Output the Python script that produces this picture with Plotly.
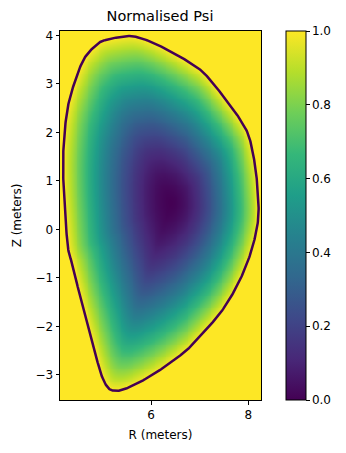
import numpy as np
import plotly.graph_objects as go

# Plasma boundary (last closed flux surface) control points, metres
boundary_r = [5.05, 5.47, 5.73, 6.08, 6.49, 6.84, 7.11, 7.49, 7.79, 8.00, 8.12, 8.18, 8.21,
              8.14, 8.00, 7.76, 7.42, 6.91, 6.70, 6.29, 5.88, 5.47, 5.26, 5.12, 4.99,
              4.85, 4.66, 4.54, 4.40, 4.30, 4.24, 4.20, 4.20, 4.27, 4.40, 4.61, 4.85]
boundary_z = [3.90, 3.98, 3.96, 3.83, 3.62, 3.41, 3.20, 2.74, 2.33, 1.95, 1.43, 0.95, 0.33,
              -0.15, -0.63, -1.18, -1.73, -2.31, -2.52, -2.83, -3.09, -3.29, -3.33, -3.27, -3.03,
              -2.55, -1.85, -1.39, -0.77, -0.42, 0.26, 0.96, 1.64, 2.40, 2.94, 3.49, 3.78]

# Magnetic axis and flux profile exponent
axis_r = [6.40]
axis_z = [0.55]
profile_exponent = [1.7]

# Computational grid
r_limits = [4.13, 8.26]
z_limits = [-3.52, 4.09]
n_r, n_z = 220, 400

colorbar_ticks = [0.0, 0.2, 0.4, 0.6, 0.8, 1.0]
x_ticks = [6, 8]
y_ticks = [-3, -2, -1, 0, 1, 2, 3, 4]


def closed_catmull_rom(px, py, samples=20):
    """Smooth closed curve through the control points."""
    P = np.column_stack([px, py])
    n = len(P)
    out = []
    t = np.linspace(0, 1, samples, endpoint=False)[:, None]
    for i in range(n):
        p0, p1, p2, p3 = P[(i - 1) % n], P[i], P[(i + 1) % n], P[(i + 2) % n]
        seg = 0.5 * ((2 * p1) + (-p0 + p2) * t + (2 * p0 - 5 * p1 + 4 * p2 - p3) * t ** 2
                     + (-p0 + 3 * p1 - 3 * p2 + p3) * t ** 3)
        out.append(seg)
    out = np.vstack(out)
    out = np.vstack([out, out[:1]])
    return out[:, 0], out[:, 1]


curve_r, curve_z = closed_catmull_rom(boundary_r, boundary_z)

r0, z0 = axis_r[0], axis_z[0]
theta_b = np.arctan2(curve_z - z0, curve_r - r0)
rad_b = np.hypot(curve_r - r0, curve_z - z0)
order = np.argsort(theta_b)
theta_b, rad_b = theta_b[order], rad_b[order]

R = np.linspace(r_limits[0], r_limits[1], n_r)
Z = np.linspace(z_limits[0], z_limits[1], n_z)
RR, ZZ = np.meshgrid(R, Z)
theta = np.arctan2(ZZ - z0, RR - r0)
rad = np.hypot(RR - r0, ZZ - z0)
rad_edge = np.interp(theta, theta_b, rad_b, period=2 * np.pi)
rho = rad / rad_edge
psi_n = np.clip(rho ** profile_exponent[0], 0.0, 1.0)

fig = go.Figure()
fig.add_trace(go.Heatmap(
    x=R, y=Z, z=psi_n, colorscale="Viridis", zmin=0, zmax=1, zsmooth="best",
    colorbar=dict(
        x=1.124, xanchor="left", xpad=0, y=0.5, yanchor="middle", len=1.0, lenmode="fraction",
        ypad=0, thickness=20, outlinewidth=1, outlinecolor="black",
        tickvals=colorbar_ticks, ticktext=[f"{v:.1f}" for v in colorbar_ticks],
        ticks="outside", ticklen=3.5, tickwidth=1, tickcolor="black",
        tickfont=dict(family="DejaVu Sans", size=12, color="black"),
    ),
    hoverinfo="skip",
))

# Boundary contour
fig.add_trace(go.Scatter(
    x=curve_r, y=curve_z,
    mode="lines", line=dict(color="#440154", width=2.5), showlegend=False,
    hoverinfo="skip",
))

axis_style = dict(
    showline=True, mirror=True, linecolor="black", linewidth=1,
    ticks="outside", ticklen=3.5, tickwidth=1, tickcolor="black",
    showgrid=False, zeroline=False,
    tickfont=dict(family="DejaVu Sans", size=12, color="black"),
    title_font=dict(family="DejaVu Sans", size=12, color="black"),
)

fig.update_layout(
    width=346, height=453,
    margin=dict(l=60, r=85, t=31, b=53),
    paper_bgcolor="white", plot_bgcolor="white",
    title=dict(text="Normalised Psi", x=160 / 346, xanchor="center", y=1 - 16 / 453,
               yanchor="middle", font=dict(family="DejaVu Sans", size=14.5, color="black")),
    xaxis=dict(range=r_limits, tickvals=x_ticks, title=dict(text="R (meters)", standoff=9), **axis_style),
    yaxis=dict(range=z_limits, tickvals=y_ticks, title=dict(text="Z (meters)", standoff=11), **axis_style),
    showlegend=False,
)

fig.write_html("out.html")
